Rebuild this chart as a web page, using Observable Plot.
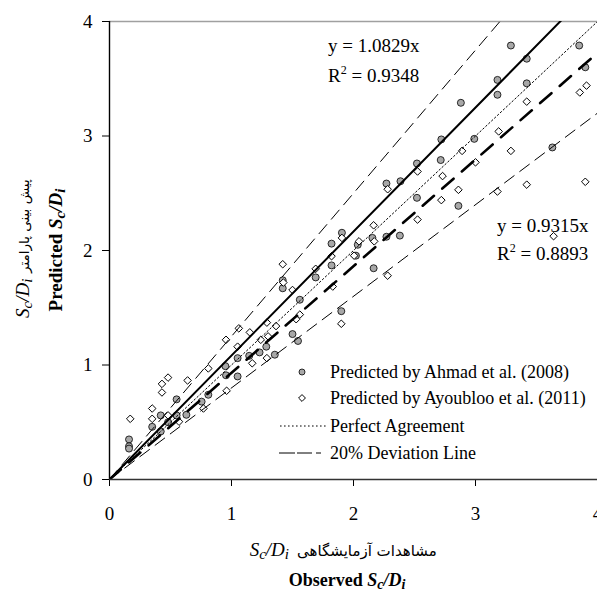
<!DOCTYPE html>
<html><head><meta charset="utf-8">
<script src="https://cdn.jsdelivr.net/npm/d3@7"></script>
<script src="https://cdn.jsdelivr.net/npm/@observablehq/plot@0.6"></script>
<style>body{margin:0;background:#fff} svg{display:block}</style>
</head><body><div id="chart"></div>
<script>
// Observed vs predicted values, Ahmad et al. (2008)
const ahmadObs  = [0.16,0.16,0.16,0.35,0.42,0.42,0.48,0.55,0.55,0.63,0.755,0.81,0.95,0.955,1.05,1.05,1.145,1.23,1.285,1.355,1.50,1.545,1.42,1.42,1.56,1.69,1.82,1.82,1.90,1.905,2.02,2.035,2.155,2.165,2.27,2.38,2.27,2.385,2.52,2.52,2.715,2.72,2.86,2.88,2.99,3.18,3.18,3.29,3.42,3.42,3.63,3.85,3.90];
const ahmadPred = [0.35,0.29,0.27,0.46,0.56,0.42,0.50,0.70,0.56,0.565,0.68,0.74,0.99,0.91,1.06,0.90,1.08,1.11,1.16,1.09,1.27,1.21,1.74,1.67,1.57,1.765,2.06,1.87,1.47,2.155,1.955,2.05,2.11,1.845,2.12,2.13,2.585,2.605,2.76,2.46,2.79,2.97,2.39,3.29,2.975,3.49,3.36,3.79,3.675,3.46,2.90,3.79,3.60];
// Observed vs predicted values, Ayoubloo et al. (2011)
const ayoubObs  = [0.17,0.35,0.35,0.43,0.43,0.48,0.64,0.48,0.57,0.77,0.81,0.96,0.955,1.06,1.05,1.15,1.17,1.29,1.24,1.30,1.365,1.29,1.42,1.425,1.50,1.53,1.56,1.69,1.82,1.83,1.90,1.905,2.005,2.045,2.17,2.165,2.28,2.28,2.525,2.525,2.73,2.72,2.86,2.89,3.0,3.19,3.18,3.29,3.42,3.42,3.64,3.855,3.91,3.90];
const ayoubPred = [0.53,0.62,0.53,0.76,0.835,0.89,0.865,0.56,0.505,0.62,0.97,0.775,1.22,1.32,1.16,1.285,1.015,1.37,1.22,1.25,1.34,1.06,1.88,1.72,1.655,1.40,1.44,1.84,1.95,1.685,1.36,2.11,1.955,2.08,2.08,2.22,2.535,1.78,2.69,2.27,2.65,2.44,2.53,2.87,2.77,3.04,2.515,2.87,3.30,2.575,2.125,3.38,3.44,2.60];
// Reference lines y = slope * x
const lineNames  = ["Ahmad fit","Ayoubloo fit","Perfect Agreement","+20% deviation","-20% deviation"];
const lineSlopes = [1.0829, 0.9315, 1, 1.25, 0.8];
const ticks = [0,1,2,3,4];
const legendLabels = ["Predicted by Ahmad et al. (2008)","Predicted by Ayoubloo et al. (2011)","Perfect Agreement","20% Deviation Line"];
const equations = [["y = 1.0829x","R\u00B2 = 0.9348"],["y = 0.9315x","R\u00B2 = 0.8893"]];

const ahmad = ahmadObs.map((x,i)=>({x, y: ahmadPred[i]}));
const ayoub = ayoubObs.map((x,i)=>({x, y: ayoubPred[i]}));
const xMax = ticks[ticks.length-1];
const lineData = n => [0, xMax].map(x => ({x, y: lineSlopes[n]*x}));
const lineStyles = [
  {stroke:"black", strokeWidth:2},
  {stroke:"black", strokeWidth:2.6, strokeDasharray:"15,11"},
  {stroke:"black", strokeWidth:1, strokeDasharray:"1.6,2.4"},
  {stroke:"black", strokeWidth:1, strokeDasharray:"12,7"},
  {stroke:"black", strokeWidth:1, strokeDasharray:"12,7"}
];
const FONT = "Liberation Serif, serif";
const FA = "DejaVu Sans, sans-serif";

const chart = Plot.plot({
  width: 597, height: 592,
  marginLeft: 109, marginRight: 0, marginTop: 21, marginBottom: 113,
  x: {domain: [0, xMax]},
  y: {domain: [0, xMax]},
  style: {fontFamily: FONT, fontSize: "19px", color: "black", background: "white", overflow: "visible"},
  marks: [
    Plot.ruleY([xMax], {stroke: "#a0a0a0", strokeWidth: 1.5}),
    Plot.dot(ahmad, {x: "x", y: "y", r: 3.5, fill: "#a8a8a8", stroke: "black", strokeWidth: 0.8}),
    Plot.dot(ayoub, {x: "x", y: "y", symbol: "diamond2", r: 3.4, fill: "white", stroke: "black", strokeWidth: 1}),
    ...lineSlopes.map((s,i) => Plot.line(lineData(i), {x: "x", y: "y", clip: true, ...lineStyles[i]})),
    Plot.axisX({ticks, tickFormat: d => String(d), tickSize: 7, tickPadding: 20, fontSize: 19, fontFamily: FONT, label: null}),
    Plot.axisY({ticks, tickFormat: d => String(d), tickSize: 7, tickPadding: 10, fontSize: 19, fontFamily: FONT, label: null}),
    Plot.ruleX([0], {stroke: "black", strokeWidth: 1.4}),
    Plot.ruleY([0], {stroke: "#333", strokeWidth: 1.6})
  ]
});
document.getElementById("chart").appendChild(chart);

const svg = d3.select(chart);
const g = svg.append("g").attr("font-family", FONT).attr("fill", "black").attr("text-anchor", "start");

// Equations
function eq(lines, x, y0, dy) {
  lines.forEach((t, k) => {
    const txt = g.append("text").attr("x", x).attr("y", y0 + k*dy).attr("font-size", 19).attr("font-family", FONT);
    if (t.startsWith("R")) {
      txt.append("tspan").text("R");
      txt.append("tspan").attr("font-size", 12).attr("dy", -8).text("2");
      txt.append("tspan").attr("dy", 8).text(t.slice(2));
    } else txt.text(t);
  });
}
eq(equations[0], 328, 52, 30);
eq(equations[1], 497, 232, 28);

// Legend
const lx = 302, tx = 330, rows = [372, 398, 426, 453];
g.append("circle").attr("cx", lx).attr("cy", rows[0]).attr("r", 3).attr("fill", "#a8a8a8").attr("stroke", "black").attr("stroke-width", 0.8);
g.append("path").attr("d", d3.symbol(d3.symbolDiamond2, 30)()).attr("transform", `translate(${lx},${rows[1]})`).attr("fill", "white").attr("stroke", "black");
g.append("line").attr("x1", 280).attr("x2", 328).attr("y1", rows[2]).attr("y2", rows[2]).attr("stroke", "black").attr("stroke-dasharray", "1.6,2.4");
g.append("line").attr("x1", 279).attr("x2", 324).attr("y1", rows[3]).attr("y2", rows[3]).attr("stroke", "black").attr("stroke-dasharray", "16,2,15,4,5,10");
legendLabels.forEach((t, k) => g.append("text").attr("x", tx).attr("y", rows[k] + 6).attr("font-size", 18).attr("font-family", FONT).text(t));

// Subscripted S_c/D_i
function scdi(sel, size, bold) {
  const sub = Math.round(size*0.78);
  const w = bold ? "bold" : "normal";
  sel.append("tspan").attr("font-style", "italic").attr("font-weight", w).text("S");
  sel.append("tspan").attr("font-style", "italic").attr("font-weight", w).attr("font-size", sub).attr("dy", 3).text("c");
  sel.append("tspan").attr("font-style", "italic").attr("font-weight", w).attr("dy", -3).text("/D");
  sel.append("tspan").attr("font-style", "italic").attr("font-weight", w).attr("font-size", sub).attr("dy", 3).text("i");
}
// X axis titles
scdi(g.append("text").attr("x", 289).attr("y", 556).attr("text-anchor", "end").attr("font-size", 19).attr("font-family", FONT), 19, false);
g.append("text").attr("x", 297).attr("y", 556).attr("text-anchor", "start").attr("font-size", 15).attr("font-family", FA).text("مشاهدات آزمایشگاهی");
const obs = g.append("text").attr("x", 347).attr("y", 586).attr("text-anchor", "middle").attr("font-size", 18).attr("font-weight", "bold").attr("font-family", FONT);
obs.append("tspan").text("Observed ");
scdi(obs, 18, true);

// Y axis titles
const yg1 = g.append("g").attr("transform", "translate(29,0) rotate(-90)");
scdi(yg1.append("text").attr("x", -318).attr("y", 0).attr("text-anchor", "start").attr("font-size", 19).attr("font-family", FONT), 19, false);
yg1.append("text").attr("x", -273).attr("y", 0).attr("text-anchor", "start").attr("font-size", 13.5).attr("font-family", FA).text("پیش بینی پارامتر");
const yg2 = g.append("g").attr("transform", "translate(62,250) rotate(-90)");
const pt = yg2.append("text").attr("text-anchor", "middle").attr("font-size", 19).attr("font-weight", "bold").attr("font-family", FONT);
pt.append("tspan").text("Predicted ");
scdi(pt, 19, true);
</script>
</body></html>
